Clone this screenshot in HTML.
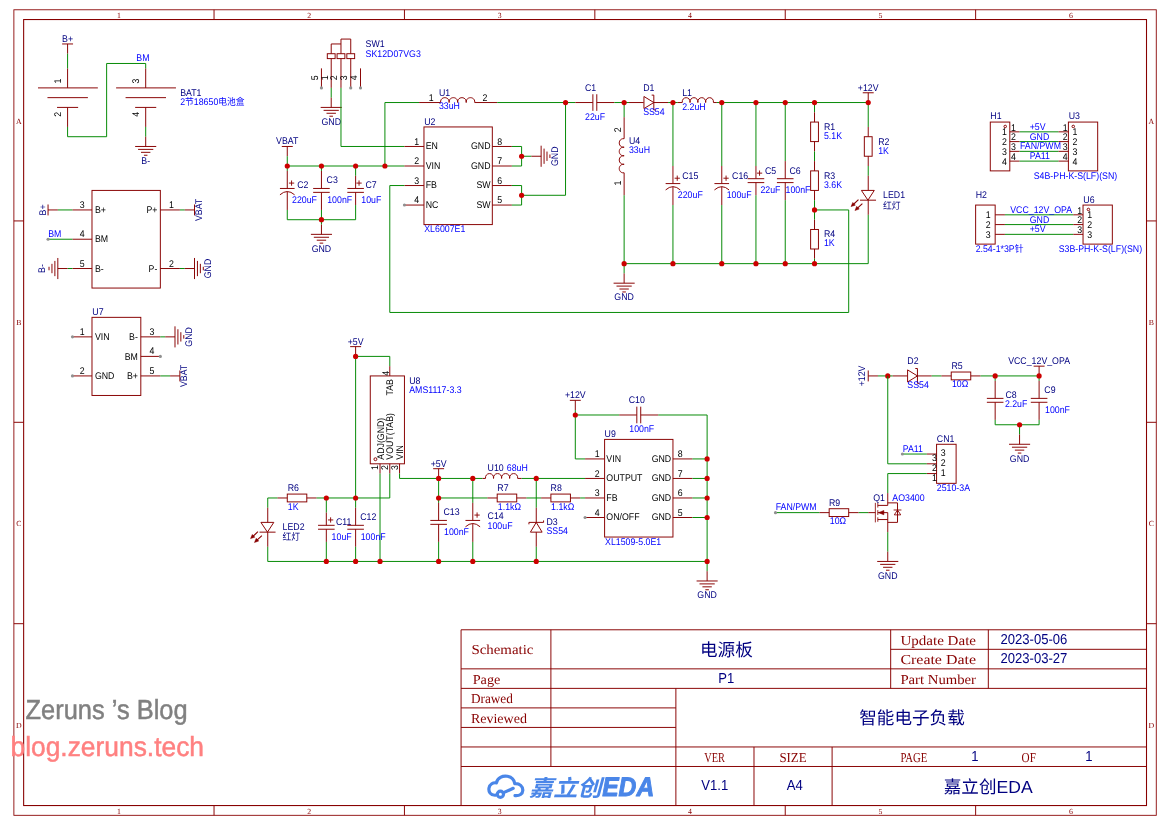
<!DOCTYPE html>
<html lang="zh">
<head>
<meta charset="utf-8">
<title>电源板 - 智能电子负载</title>
<style>
html,body{margin:0;padding:0;background:#fff;}
body{width:1170px;height:825px;overflow:hidden;}
svg{display:block;will-change:transform;}
svg text{font-family:"Liberation Sans","Noto Sans CJK SC",sans-serif;}
svg text.m{font-family:"Liberation Mono","Noto Sans CJK SC",monospace;}
svg text.s{font-family:"Liberation Serif","Noto Serif CJK SC",serif;}
</style>
</head>
<body>
<svg width="1170" height="825" viewBox="0 0 1170 825" text-rendering="geometricPrecision">
<rect x="0" y="0" width="1170" height="825" fill="#ffffff"/>
<g id="sch" transform="translate(13.88 9.78) scale(0.9764 0.9764)" stroke-linecap="butt" font-size="9">
<g id="frame">
<rect x="0" y="0" width="1170" height="825" fill="none" stroke="#880000" stroke-width="0.9"/>
<rect x="10" y="10" width="1150" height="805" fill="none" stroke="#880000" stroke-width="1.1"/>
<line x1="205" y1="0" x2="205" y2="10" stroke="#880000" stroke-width="1"/>
<line x1="205" y1="815" x2="205" y2="825" stroke="#880000" stroke-width="1"/>
<line x1="400" y1="0" x2="400" y2="10" stroke="#880000" stroke-width="1"/>
<line x1="400" y1="815" x2="400" y2="825" stroke="#880000" stroke-width="1"/>
<line x1="595" y1="0" x2="595" y2="10" stroke="#880000" stroke-width="1"/>
<line x1="595" y1="815" x2="595" y2="825" stroke="#880000" stroke-width="1"/>
<line x1="790" y1="0" x2="790" y2="10" stroke="#880000" stroke-width="1"/>
<line x1="790" y1="815" x2="790" y2="825" stroke="#880000" stroke-width="1"/>
<line x1="985" y1="0" x2="985" y2="10" stroke="#880000" stroke-width="1"/>
<line x1="985" y1="815" x2="985" y2="825" stroke="#880000" stroke-width="1"/>
<text x="107.5" y="8.6" fill="#880000" font-size="8" text-anchor="middle" class="s">1</text>
<text x="107.5" y="823.6" fill="#880000" font-size="8" text-anchor="middle" class="s">1</text>
<text x="302.5" y="8.6" fill="#880000" font-size="8" text-anchor="middle" class="s">2</text>
<text x="302.5" y="823.6" fill="#880000" font-size="8" text-anchor="middle" class="s">2</text>
<text x="497.5" y="8.6" fill="#880000" font-size="8" text-anchor="middle" class="s">3</text>
<text x="497.5" y="823.6" fill="#880000" font-size="8" text-anchor="middle" class="s">3</text>
<text x="692.5" y="8.6" fill="#880000" font-size="8" text-anchor="middle" class="s">4</text>
<text x="692.5" y="823.6" fill="#880000" font-size="8" text-anchor="middle" class="s">4</text>
<text x="887.5" y="8.6" fill="#880000" font-size="8" text-anchor="middle" class="s">5</text>
<text x="887.5" y="823.6" fill="#880000" font-size="8" text-anchor="middle" class="s">5</text>
<text x="1082.5" y="8.6" fill="#880000" font-size="8" text-anchor="middle" class="s">6</text>
<text x="1082.5" y="823.6" fill="#880000" font-size="8" text-anchor="middle" class="s">6</text>
<line x1="0" y1="216.25" x2="10" y2="216.25" stroke="#880000" stroke-width="1"/>
<line x1="1160" y1="216.25" x2="1170" y2="216.25" stroke="#880000" stroke-width="1"/>
<line x1="0" y1="422.5" x2="10" y2="422.5" stroke="#880000" stroke-width="1"/>
<line x1="1160" y1="422.5" x2="1170" y2="422.5" stroke="#880000" stroke-width="1"/>
<line x1="0" y1="628.75" x2="10" y2="628.75" stroke="#880000" stroke-width="1"/>
<line x1="1160" y1="628.75" x2="1170" y2="628.75" stroke="#880000" stroke-width="1"/>
<text x="5" y="116.5" fill="#880000" font-size="8" text-anchor="middle" class="s">A</text>
<text x="1165" y="116.5" fill="#880000" font-size="8" text-anchor="middle" class="s">A</text>
<text x="5" y="322.75" fill="#880000" font-size="8" text-anchor="middle" class="s">B</text>
<text x="1165" y="322.75" fill="#880000" font-size="8" text-anchor="middle" class="s">B</text>
<text x="5" y="529" fill="#880000" font-size="8" text-anchor="middle" class="s">C</text>
<text x="1165" y="529" fill="#880000" font-size="8" text-anchor="middle" class="s">C</text>
<text x="5" y="735.25" fill="#880000" font-size="8" text-anchor="middle" class="s">D</text>
<text x="1165" y="735.25" fill="#880000" font-size="8" text-anchor="middle" class="s">D</text>
<line x1="458" y1="635" x2="1160" y2="635" stroke="#880000" stroke-width="1"/>
<line x1="458" y1="635" x2="458" y2="815" stroke="#880000" stroke-width="1"/>
<line x1="898" y1="655" x2="1160" y2="655" stroke="#880000" stroke-width="1"/>
<line x1="458" y1="675" x2="1160" y2="675" stroke="#880000" stroke-width="1"/>
<line x1="458" y1="695" x2="1160" y2="695" stroke="#880000" stroke-width="1"/>
<line x1="458" y1="715" x2="678" y2="715" stroke="#880000" stroke-width="1"/>
<line x1="458" y1="735" x2="678" y2="735" stroke="#880000" stroke-width="1"/>
<line x1="458" y1="755" x2="1160" y2="755" stroke="#880000" stroke-width="1"/>
<line x1="458" y1="775" x2="1160" y2="775" stroke="#880000" stroke-width="1"/>
<line x1="550" y1="635" x2="550" y2="775" stroke="#880000" stroke-width="1"/>
<line x1="678" y1="695" x2="678" y2="815" stroke="#880000" stroke-width="1"/>
<line x1="758" y1="755" x2="758" y2="815" stroke="#880000" stroke-width="1"/>
<line x1="838" y1="755" x2="838" y2="815" stroke="#880000" stroke-width="1"/>
<line x1="898" y1="635" x2="898" y2="695" stroke="#880000" stroke-width="1"/>
<line x1="998" y1="635" x2="998" y2="695" stroke="#880000" stroke-width="1"/>
<text x="468.58" y="659.59" fill="#880000" font-size="14" class="s" textLength="63.5" lengthAdjust="spacingAndGlyphs">Schematic</text>
<text x="469.91" y="690.11" fill="#880000" font-size="14" class="s" textLength="28.37" lengthAdjust="spacingAndGlyphs">Page</text>
<text x="468.07" y="709.87" fill="#880000" font-size="14" class="s" textLength="43.02" lengthAdjust="spacingAndGlyphs">Drawed</text>
<text x="468.07" y="730.05" fill="#880000" font-size="14" class="s" textLength="57.35" lengthAdjust="spacingAndGlyphs">Reviewed</text>
<text x="707.01" y="770.61" fill="#880000" font-size="14" class="s" textLength="21.3" lengthAdjust="spacingAndGlyphs">VER</text>
<text x="784.02" y="770.61" fill="#880000" font-size="14" class="s" textLength="27.86" lengthAdjust="spacingAndGlyphs">SIZE</text>
<text x="907.95" y="651.09" fill="#880000" font-size="14" class="s" textLength="77.43" lengthAdjust="spacingAndGlyphs">Update Date</text>
<text x="907.95" y="670.54" fill="#880000" font-size="14" class="s" textLength="77.43" lengthAdjust="spacingAndGlyphs">Create Date</text>
<text x="907.95" y="690.82" fill="#880000" font-size="14" class="s" textLength="77.43" lengthAdjust="spacingAndGlyphs">Part Number</text>
<text x="907.95" y="769.99" fill="#880000" font-size="14" class="s" textLength="27.65" lengthAdjust="spacingAndGlyphs">PAGE</text>
<text x="1032.08" y="769.99" fill="#880000" font-size="14" class="s" textLength="14.65" lengthAdjust="spacingAndGlyphs">OF</text>
<text transform="translate(729.74 661.43) scale(1 1)" fill="#000080" font-size="18" text-anchor="middle" class="c">电源板</text>
<text transform="translate(729.54 689.9) scale(1 1.1)" fill="#000080" font-size="13.4" text-anchor="middle" class="c">P1</text>
<text transform="translate(717.76 799.39) scale(1 1.1)" fill="#000080" font-size="13.4" text-anchor="middle" class="c">V1.1</text>
<text transform="translate(799.8 799.39) scale(1 1.1)" fill="#000080" font-size="13.4" text-anchor="middle" class="c">A4</text>
<text transform="translate(1010.47 649.86) scale(1 1.1)" fill="#000080" font-size="13.4" text-anchor="start" class="c">2023-05-06</text>
<text transform="translate(1010.47 669.21) scale(1 1.1)" fill="#000080" font-size="13.4" text-anchor="start" class="c">2023-03-27</text>
<text transform="translate(919.83 731.48) scale(1 1)" fill="#000080" font-size="18" text-anchor="middle" class="c">智能电子负载</text>
<text transform="translate(984.35 769.07) scale(1 1.1)" fill="#000080" font-size="13.4" text-anchor="middle" class="c">1</text>
<text transform="translate(1101.11 769.07) scale(1 1.1)" fill="#000080" font-size="13.4" text-anchor="middle" class="c">1</text>
<text transform="translate(997.87 802.15) scale(1 1)" fill="#000080" font-size="18" text-anchor="middle" class="c">嘉立创EDA</text>
</g>
<polyline points="55,60 55,80" stroke="#880000" stroke-width="1" fill="none"/>
<polyline points="24.7,80 86,80" stroke="#880000" stroke-width="1" fill="none"/>
<polyline points="34.4,90 75.8,90" stroke="#880000" stroke-width="1" fill="none"/>
<polyline points="44.2,100 65.8,100" stroke="#880000" stroke-width="1" fill="none"/>
<polyline points="55,100 55,120" stroke="#880000" stroke-width="1" fill="none"/>
<polyline points="135,60 135,80" stroke="#880000" stroke-width="1" fill="none"/>
<polyline points="104.7,80 166,80" stroke="#880000" stroke-width="1" fill="none"/>
<polyline points="114.4,90 155.8,90" stroke="#880000" stroke-width="1" fill="none"/>
<polyline points="124.2,100 145.8,100" stroke="#880000" stroke-width="1" fill="none"/>
<polyline points="135,100 135,120" stroke="#880000" stroke-width="1" fill="none"/>
<polyline points="55,45 55,35" stroke="#880000" stroke-width="1" fill="none"/>
<polyline points="60.6,35 49.4,35" stroke="#880000" stroke-width="1" fill="none"/>
<text transform="translate(55 33.2) scale(1 1.1)" fill="#000080" text-anchor="middle">B+</text>
<polyline points="55,45 55,60" stroke="#008800" stroke-width="1" fill="none"/>
<polyline points="55,120 55,130 95,130 95,55 135,55 135,60" stroke="#008800" stroke-width="1" fill="none"/>
<polyline points="135,120 135,130" stroke="#008800" stroke-width="1" fill="none"/>
<polyline points="135,130 135,140" stroke="#880000" stroke-width="1" fill="none"/>
<polyline points="124.2,140 145.8,140" stroke="#880000" stroke-width="1" fill="none"/>
<polyline points="127.2,143 142.8,143" stroke="#880000" stroke-width="1" fill="none"/>
<polyline points="130.2,146 139.8,146" stroke="#880000" stroke-width="1" fill="none"/>
<polyline points="133.2,149 136.8,149" stroke="#880000" stroke-width="1" fill="none"/>
<text transform="translate(135 157.6) scale(1 1.1)" fill="#000080" text-anchor="middle">B-</text>
<text transform="translate(125.45 52.46) scale(1 1.1)" fill="#0000ff">BM</text>
<text transform="translate(47.79 72.98) rotate(-90) scale(1 1.1)" fill="#000000" text-anchor="middle">1</text>
<text transform="translate(47.79 107.01) rotate(-90) scale(1 1.1)" fill="#000000" text-anchor="middle">2</text>
<text transform="translate(127.85 72.98) rotate(-90) scale(1 1.1)" fill="#000000" text-anchor="middle">3</text>
<text transform="translate(127.85 107.01) rotate(-90) scale(1 1.1)" fill="#000000" text-anchor="middle">4</text>
<text transform="translate(170.29 88.19) scale(1 1.1)" fill="#000080">BAT1</text>
<text transform="translate(170.29 97.6) scale(1 1.1)" fill="#0000ff">2节18650电池盒</text>
<rect x="80" y="185" width="70" height="100" stroke="#880000" stroke-width="1" fill="none"/>
<polyline points="60,205 80,205" stroke="#880000" stroke-width="1" fill="none"/>
<text transform="translate(70 203) scale(1 1.1)" fill="#000000" text-anchor="middle">3</text>
<text transform="translate(83 208.3) scale(1 1.1)" fill="#000000">B+</text>
<polyline points="60,235 80,235" stroke="#880000" stroke-width="1" fill="none"/>
<text transform="translate(70 233) scale(1 1.1)" fill="#000000" text-anchor="middle">4</text>
<text transform="translate(83 238.3) scale(1 1.1)" fill="#000000">BM</text>
<polyline points="60,265 80,265" stroke="#880000" stroke-width="1" fill="none"/>
<text transform="translate(70 263) scale(1 1.1)" fill="#000000" text-anchor="middle">5</text>
<text transform="translate(83 268.3) scale(1 1.1)" fill="#000000">B-</text>
<polyline points="150,205 170,205" stroke="#880000" stroke-width="1" fill="none"/>
<text transform="translate(161.3 203) scale(1 1.1)" fill="#000000" text-anchor="middle">1</text>
<text transform="translate(147 208.3) scale(1 1.1)" fill="#000000" text-anchor="end">P+</text>
<polyline points="150,265 170,265" stroke="#880000" stroke-width="1" fill="none"/>
<text transform="translate(161.3 263) scale(1 1.1)" fill="#000000" text-anchor="middle">2</text>
<text transform="translate(147 268.3) scale(1 1.1)" fill="#000000" text-anchor="end">P-</text>
<polyline points="45,205 60,205" stroke="#008800" stroke-width="1" fill="none"/>
<polyline points="45,205 35,205" stroke="#880000" stroke-width="1" fill="none"/>
<polyline points="35,199.4 35,210.6" stroke="#880000" stroke-width="1" fill="none"/>
<text transform="translate(33.4 205) rotate(-90) scale(1 1.1)" fill="#000080" text-anchor="middle">B+</text>
<polyline points="35,235 60,235" stroke="#008800" stroke-width="1" fill="none"/>
<circle cx="35" cy="235" r="1.6" fill="#909090"/>
<text transform="translate(35.18 232.91) scale(1 1.1)" fill="#0000ff">BM</text>
<polyline points="55,265 60,265" stroke="#008800" stroke-width="1" fill="none"/>
<polyline points="55,265 45,265" stroke="#880000" stroke-width="1" fill="none"/>
<polyline points="45,254.2 45,275.8" stroke="#880000" stroke-width="1" fill="none"/>
<polyline points="42,257.2 42,272.8" stroke="#880000" stroke-width="1" fill="none"/>
<polyline points="39,260.2 39,269.8" stroke="#880000" stroke-width="1" fill="none"/>
<polyline points="36,263.2 36,266.8" stroke="#880000" stroke-width="1" fill="none"/>
<text transform="translate(31.6 265) rotate(-90) scale(1 1.1)" fill="#000080" text-anchor="middle">B-</text>
<polyline points="170,205 175,205" stroke="#008800" stroke-width="1" fill="none"/>
<polyline points="175,205 185,205" stroke="#880000" stroke-width="1" fill="none"/>
<polyline points="185,210.6 185,199.4" stroke="#880000" stroke-width="1" fill="none"/>
<text transform="translate(192.4 205) rotate(-90) scale(1 1.1)" fill="#000080" text-anchor="middle">VBAT</text>
<polyline points="170,265 175,265" stroke="#008800" stroke-width="1" fill="none"/>
<polyline points="175,265 185,265" stroke="#880000" stroke-width="1" fill="none"/>
<polyline points="185,275.8 185,254.2" stroke="#880000" stroke-width="1" fill="none"/>
<polyline points="188,272.8 188,257.2" stroke="#880000" stroke-width="1" fill="none"/>
<polyline points="191,269.8 191,260.2" stroke="#880000" stroke-width="1" fill="none"/>
<polyline points="194,266.8 194,263.2" stroke="#880000" stroke-width="1" fill="none"/>
<text transform="translate(202 265) rotate(-90) scale(1 1.1)" fill="#000080" text-anchor="middle">GND</text>
<rect x="80" y="315" width="50" height="80" stroke="#880000" stroke-width="1" fill="none"/>
<polyline points="60,335 80,335" stroke="#880000" stroke-width="1" fill="none"/>
<text transform="translate(70 333) scale(1 1.1)" fill="#000000" text-anchor="middle">1</text>
<text transform="translate(83 338.3) scale(1 1.1)" fill="#000000">VIN</text>
<polyline points="60,375 80,375" stroke="#880000" stroke-width="1" fill="none"/>
<text transform="translate(70 373) scale(1 1.1)" fill="#000000" text-anchor="middle">2</text>
<text transform="translate(83 378.3) scale(1 1.1)" fill="#000000">GND</text>
<polyline points="130,335 150,335" stroke="#880000" stroke-width="1" fill="none"/>
<text transform="translate(141.3 333) scale(1 1.1)" fill="#000000" text-anchor="middle">3</text>
<text transform="translate(127 338.3) scale(1 1.1)" fill="#000000" text-anchor="end">B-</text>
<polyline points="130,355 150,355" stroke="#880000" stroke-width="1" fill="none"/>
<text transform="translate(141.3 353) scale(1 1.1)" fill="#000000" text-anchor="middle">4</text>
<text transform="translate(127 358.3) scale(1 1.1)" fill="#000000" text-anchor="end">BM</text>
<polyline points="130,375 150,375" stroke="#880000" stroke-width="1" fill="none"/>
<text transform="translate(141.3 373) scale(1 1.1)" fill="#000000" text-anchor="middle">5</text>
<text transform="translate(127 378.3) scale(1 1.1)" fill="#000000" text-anchor="end">B+</text>
<text transform="translate(80.31 312.67) scale(1 1.1)" fill="#000080">U7</text>
<circle cx="60" cy="335" r="1.6" fill="#909090"/>
<circle cx="60" cy="375" r="1.6" fill="#909090"/>
<circle cx="150" cy="355" r="1.6" fill="#909090"/>
<polyline points="150,335 155,335" stroke="#008800" stroke-width="1" fill="none"/>
<polyline points="155,335 165,335" stroke="#880000" stroke-width="1" fill="none"/>
<polyline points="165,345.8 165,324.2" stroke="#880000" stroke-width="1" fill="none"/>
<polyline points="168,342.8 168,327.2" stroke="#880000" stroke-width="1" fill="none"/>
<polyline points="171,339.8 171,330.2" stroke="#880000" stroke-width="1" fill="none"/>
<polyline points="174,336.8 174,333.2" stroke="#880000" stroke-width="1" fill="none"/>
<text transform="translate(182 335) rotate(-90) scale(1 1.1)" fill="#000080" text-anchor="middle">GND</text>
<polyline points="150,375 160,375" stroke="#008800" stroke-width="1" fill="none"/>
<polyline points="160,375 170,375" stroke="#880000" stroke-width="1" fill="none"/>
<polyline points="170,380.6 170,369.4" stroke="#880000" stroke-width="1" fill="none"/>
<text transform="translate(177.4 375) rotate(-90) scale(1 1.1)" fill="#000080" text-anchor="middle">VBAT</text>
<rect x="321" y="45" width="8" height="5" stroke="#880000" stroke-width="1" fill="none"/>
<polyline points="325,50 325,80" stroke="#880000" stroke-width="1" fill="none"/>
<rect x="331" y="45" width="8" height="5" stroke="#880000" stroke-width="1" fill="none"/>
<polyline points="335,50 335,80" stroke="#880000" stroke-width="1" fill="none"/>
<rect x="341" y="45" width="8" height="5" stroke="#880000" stroke-width="1" fill="none"/>
<polyline points="345,50 345,80" stroke="#880000" stroke-width="1" fill="none"/>
<polyline points="325,45 325,35 335,35" stroke="#880000" stroke-width="1" fill="none"/>
<polyline points="335,45 335,30 345,30 345,45" stroke="#880000" stroke-width="1" fill="none"/>
<polyline points="315,60 315,80" stroke="#880000" stroke-width="1" fill="none"/>
<polyline points="355,60 355,80" stroke="#880000" stroke-width="1" fill="none"/>
<circle cx="315" cy="80" r="1.6" fill="#909090"/>
<circle cx="345" cy="80" r="1.6" fill="#909090"/>
<circle cx="355" cy="80" r="1.6" fill="#909090"/>
<text transform="translate(311.2 69.58) rotate(-90) scale(1 1.1)" fill="#000000" text-anchor="middle">5</text>
<text transform="translate(321.21 69.58) rotate(-90) scale(1 1.1)" fill="#000000" text-anchor="middle">1</text>
<text transform="translate(331.22 69.58) rotate(-90) scale(1 1.1)" fill="#000000" text-anchor="middle">2</text>
<text transform="translate(341.23 69.58) rotate(-90) scale(1 1.1)" fill="#000000" text-anchor="middle">3</text>
<text transform="translate(351.24 69.58) rotate(-90) scale(1 1.1)" fill="#000000" text-anchor="middle">4</text>
<polyline points="325,80 325,90" stroke="#008800" stroke-width="1" fill="none"/>
<polyline points="325,90 325,100" stroke="#880000" stroke-width="1" fill="none"/>
<polyline points="314.2,100 335.8,100" stroke="#880000" stroke-width="1" fill="none"/>
<polyline points="317.2,103 332.8,103" stroke="#880000" stroke-width="1" fill="none"/>
<polyline points="320.2,106 329.8,106" stroke="#880000" stroke-width="1" fill="none"/>
<polyline points="323.2,109 326.8,109" stroke="#880000" stroke-width="1" fill="none"/>
<text transform="translate(325 117.6) scale(1 1.1)" fill="#000080" text-anchor="middle">GND</text>
<polyline points="335,80 335,140 400,140" stroke="#008800" stroke-width="1" fill="none"/>
<text transform="translate(360.24 38.05) scale(1 1.1)" fill="#000080">SW1</text>
<text transform="translate(360.24 48.06) scale(1 1.1)" fill="#0000ff">SK12D07VG3</text>
<polyline points="380,160 380,95 415,95" stroke="#008800" stroke-width="1" fill="none"/>
<polyline points="415,95 437,95" stroke="#880000" stroke-width="1" fill="none"/>
<path d="M437 95 C436.4 88.35 446.35 88.35 445.75 95 C445.15 88.35 455.1 88.35 454.5 95 C453.9 88.35 463.85 88.35 463.25 95 C462.65 88.35 472.6 88.35 472 95" stroke="#880000" stroke-width="1" fill="none"/>
<polyline points="472,95 495,95" stroke="#880000" stroke-width="1" fill="none"/>
<text transform="translate(429.8 93.19) scale(1 1.1)" fill="#000000" text-anchor="end">1</text>
<text transform="translate(480.04 93.19) scale(1 1.1)" fill="#000000">2</text>
<text transform="translate(435.31 87.89) scale(1 1.1)" fill="#000080">U1</text>
<text transform="translate(435.31 102.1) scale(1 1.1)" fill="#0000ff">33uH</text>
<polyline points="280,150 280,140" stroke="#880000" stroke-width="1" fill="none"/>
<polyline points="285.6,140 274.4,140" stroke="#880000" stroke-width="1" fill="none"/>
<text transform="translate(280 137.9) scale(1 1.1)" fill="#000080" text-anchor="middle">VBAT</text>
<polyline points="280,150 280,165" stroke="#008800" stroke-width="1" fill="none"/>
<polyline points="280,160 400,160" stroke="#008800" stroke-width="1" fill="none"/>
<polyline points="280,165 280,183" stroke="#880000" stroke-width="1" fill="none"/>
<polyline points="272.5,183 287.5,183" stroke="#880000" stroke-width="1" fill="none"/>
<path d="M272.5 189.5 Q280 182.8 287.5 189.5" stroke="#880000" stroke-width="1" fill="none"/>
<polyline points="280,186.2 280,205" stroke="#880000" stroke-width="1" fill="none"/>
<polyline points="281.7,177.5 287.1,177.5" stroke="#880000" stroke-width="0.95" fill="none"/>
<polyline points="284.4,174.8 284.4,180.2" stroke="#880000" stroke-width="0.95" fill="none"/>
<text transform="translate(290.19 182.47) scale(1 1.1)" fill="#000080">C2</text>
<text transform="translate(284.88 197.68) scale(1 1.1)" fill="#0000ff">220uF</text>
<polyline points="315,165 315,183" stroke="#880000" stroke-width="1" fill="none"/>
<polyline points="306.5,183 323.5,183" stroke="#880000" stroke-width="1" fill="none"/>
<polyline points="306.5,187 323.5,187" stroke="#880000" stroke-width="1" fill="none"/>
<polyline points="315,187 315,205" stroke="#880000" stroke-width="1" fill="none"/>
<text transform="translate(320.21 177.16) scale(1 1.1)" fill="#000080">C3</text>
<text transform="translate(320.91 197.68) scale(1 1.1)" fill="#0000ff">100nF</text>
<polyline points="350,170 350,183" stroke="#880000" stroke-width="1" fill="none"/>
<polyline points="341.5,183 358.5,183" stroke="#880000" stroke-width="1" fill="none"/>
<polyline points="341.5,187 358.5,187" stroke="#880000" stroke-width="1" fill="none"/>
<polyline points="350,187 350,200" stroke="#880000" stroke-width="1" fill="none"/>
<polyline points="350.8,177.5 356.2,177.5" stroke="#880000" stroke-width="0.95" fill="none"/>
<polyline points="353.5,174.8 353.5,180.2" stroke="#880000" stroke-width="0.95" fill="none"/>
<text transform="translate(360.04 182.47) scale(1 1.1)" fill="#000080">C7</text>
<text transform="translate(355.84 197.68) scale(1 1.1)" fill="#0000ff">10uF</text>
<polyline points="315,160 315,165" stroke="#008800" stroke-width="1" fill="none"/>
<polyline points="350,160 350,170" stroke="#008800" stroke-width="1" fill="none"/>
<polyline points="280,205 280,215 350,215 350,200" stroke="#008800" stroke-width="1" fill="none"/>
<polyline points="315,205 315,220" stroke="#008800" stroke-width="1" fill="none"/>
<polyline points="315,220 315,230" stroke="#880000" stroke-width="1" fill="none"/>
<polyline points="304.2,230 325.8,230" stroke="#880000" stroke-width="1" fill="none"/>
<polyline points="307.2,233 322.8,233" stroke="#880000" stroke-width="1" fill="none"/>
<polyline points="310.2,236 319.8,236" stroke="#880000" stroke-width="1" fill="none"/>
<polyline points="313.2,239 316.8,239" stroke="#880000" stroke-width="1" fill="none"/>
<text transform="translate(315 247.6) scale(1 1.1)" fill="#000080" text-anchor="middle">GND</text>
<circle cx="280" cy="160" r="2.65" fill="#cc0000"/>
<circle cx="315" cy="160" r="2.65" fill="#cc0000"/>
<circle cx="350" cy="160" r="2.65" fill="#cc0000"/>
<circle cx="380" cy="160" r="2.65" fill="#cc0000"/>
<circle cx="315" cy="215" r="2.65" fill="#cc0000"/>
<rect x="420" y="120" width="70" height="100" stroke="#880000" stroke-width="1" fill="none"/>
<polyline points="400,140 420,140" stroke="#880000" stroke-width="1" fill="none"/>
<text transform="translate(415 138.2) scale(1 1.1)" fill="#000000" text-anchor="end">1</text>
<text transform="translate(421.8 142.9) scale(1 1.1)" fill="#000000">EN</text>
<polyline points="400,160 420,160" stroke="#880000" stroke-width="1" fill="none"/>
<text transform="translate(415 158.2) scale(1 1.1)" fill="#000000" text-anchor="end">2</text>
<text transform="translate(421.8 162.9) scale(1 1.1)" fill="#000000">VIN</text>
<polyline points="400,180 420,180" stroke="#880000" stroke-width="1" fill="none"/>
<text transform="translate(415 178.2) scale(1 1.1)" fill="#000000" text-anchor="end">3</text>
<text transform="translate(421.8 182.9) scale(1 1.1)" fill="#000000">FB</text>
<polyline points="400,200 420,200" stroke="#880000" stroke-width="1" fill="none"/>
<text transform="translate(415 198.2) scale(1 1.1)" fill="#000000" text-anchor="end">4</text>
<text transform="translate(421.8 202.9) scale(1 1.1)" fill="#000000">NC</text>
<polyline points="490,140 510,140" stroke="#880000" stroke-width="1" fill="none"/>
<text transform="translate(495 138.2) scale(1 1.1)" fill="#000000">8</text>
<text transform="translate(488.2 142.9) scale(1 1.1)" fill="#000000" text-anchor="end">GND</text>
<polyline points="490,160 510,160" stroke="#880000" stroke-width="1" fill="none"/>
<text transform="translate(495 158.2) scale(1 1.1)" fill="#000000">7</text>
<text transform="translate(488.2 162.9) scale(1 1.1)" fill="#000000" text-anchor="end">GND</text>
<polyline points="490,180 510,180" stroke="#880000" stroke-width="1" fill="none"/>
<text transform="translate(495 178.2) scale(1 1.1)" fill="#000000">6</text>
<text transform="translate(488.2 182.9) scale(1 1.1)" fill="#000000" text-anchor="end">SW</text>
<polyline points="490,200 510,200" stroke="#880000" stroke-width="1" fill="none"/>
<text transform="translate(495 198.2) scale(1 1.1)" fill="#000000">5</text>
<text transform="translate(488.2 202.9) scale(1 1.1)" fill="#000000" text-anchor="end">SW</text>
<text transform="translate(420.29 118.01) scale(1 1.1)" fill="#000080">U2</text>
<text transform="translate(420.29 227.4) scale(1 1.1)" fill="#0000ff">XL6007E1</text>
<circle cx="400" cy="200" r="1.6" fill="#909090"/>
<polyline points="510,140 520,140 520,160 510,160" stroke="#008800" stroke-width="1" fill="none"/>
<polyline points="520,150 530,150" stroke="#008800" stroke-width="1" fill="none"/>
<polyline points="530,150 540,150" stroke="#880000" stroke-width="1" fill="none"/>
<polyline points="540,160.8 540,139.2" stroke="#880000" stroke-width="1" fill="none"/>
<polyline points="543,157.8 543,142.2" stroke="#880000" stroke-width="1" fill="none"/>
<polyline points="546,154.8 546,145.2" stroke="#880000" stroke-width="1" fill="none"/>
<polyline points="549,151.8 549,148.2" stroke="#880000" stroke-width="1" fill="none"/>
<text transform="translate(557 150) rotate(-90) scale(1 1.1)" fill="#000080" text-anchor="middle">GND</text>
<circle cx="520" cy="150" r="2.65" fill="#cc0000"/>
<polyline points="510,180 520,180 520,200 510,200" stroke="#008800" stroke-width="1" fill="none"/>
<polyline points="520,190 565,190 565,95" stroke="#008800" stroke-width="1" fill="none"/>
<circle cx="520" cy="190" r="2.65" fill="#cc0000"/>
<polyline points="400,180 385,180 385,310 855,310 855,205 820,205" stroke="#008800" stroke-width="1" fill="none"/>
<polyline points="495,95 575,95" stroke="#008800" stroke-width="1" fill="none"/>
<polyline points="575,95 593,95" stroke="#880000" stroke-width="1" fill="none"/>
<polyline points="593,86.5 593,103.5" stroke="#880000" stroke-width="1" fill="none"/>
<polyline points="597,86.5 597,103.5" stroke="#880000" stroke-width="1" fill="none"/>
<polyline points="597,95 615,95" stroke="#880000" stroke-width="1" fill="none"/>
<text transform="translate(584.93 82.89) scale(1 1.1)" fill="#000080">C1</text>
<text transform="translate(584.93 112.51) scale(1 1.1)" fill="#0000ff">22uF</text>
<polyline points="615,95 630,95" stroke="#008800" stroke-width="1" fill="none"/>
<polyline points="630,95 645,95" stroke="#880000" stroke-width="1" fill="none"/>
<polyline points="655,95 670,95" stroke="#880000" stroke-width="1" fill="none"/>
<path d="M645.3 88.8 L655.4 95 L645.3 101.2 Z" stroke="#880000" stroke-width="1" fill="none"/>
<polyline points="653.2,87.4 655.4,87.4 655.4,102.6 657.6,102.6" stroke="#880000" stroke-width="1" fill="none"/>
<text transform="translate(644.48 82.89) scale(1 1.1)" fill="#000080">D1</text>
<text transform="translate(644.48 107.81) scale(1 1.1)" fill="#0000ff">SS54</text>
<polyline points="670,95 680,95" stroke="#008800" stroke-width="1" fill="none"/>
<polyline points="680,95 684.5,95" stroke="#880000" stroke-width="1" fill="none"/>
<path d="M684.5 95 C683.9 88.35 693.1 88.35 692.5 95 C691.9 88.35 701.1 88.35 700.5 95 C699.9 88.35 709.1 88.35 708.5 95 C707.9 88.35 717.1 88.35 716.5 95" stroke="#880000" stroke-width="1" fill="none"/>
<polyline points="716.5,95 720,95" stroke="#880000" stroke-width="1" fill="none"/>
<text transform="translate(684.51 88.09) scale(1 1.1)" fill="#000080">L1</text>
<text transform="translate(684.51 102.6) scale(1 1.1)" fill="#0000ff">2.2uH</text>
<polyline points="720,95 875,95" stroke="#008800" stroke-width="1" fill="none"/>
<polyline points="875,95 875,85" stroke="#880000" stroke-width="1" fill="none"/>
<polyline points="880.6,85 869.4,85" stroke="#880000" stroke-width="1" fill="none"/>
<text transform="translate(875 83.2) scale(1 1.1)" fill="#000080" text-anchor="middle">+12V</text>
<polyline points="625,95 625,110" stroke="#008800" stroke-width="1" fill="none"/>
<polyline points="625,110 625,132" stroke="#880000" stroke-width="1" fill="none"/>
<path d="M625 132 C618.35 131.4 618.35 141.35 625 140.75 C618.35 140.15 618.35 150.1 625 149.5 C618.35 148.9 618.35 158.85 625 158.25 C618.35 157.65 618.35 167.6 625 167" stroke="#880000" stroke-width="1" fill="none"/>
<polyline points="625,167 625,190" stroke="#880000" stroke-width="1" fill="none"/>
<polyline points="625,190 625,260" stroke="#008800" stroke-width="1" fill="none"/>
<text transform="translate(621.46 123.02) rotate(-90) scale(1 1.1)" fill="#000000" text-anchor="middle">2</text>
<text transform="translate(621.46 177.56) rotate(-90) scale(1 1.1)" fill="#000000" text-anchor="middle">1</text>
<text transform="translate(629.96 137.43) scale(1 1.1)" fill="#000080">U4</text>
<text transform="translate(629.96 147.14) scale(1 1.1)" fill="#0000ff">33uH</text>
<polyline points="675,95 675,160" stroke="#008800" stroke-width="1" fill="none"/>
<polyline points="675,160 675,178" stroke="#880000" stroke-width="1" fill="none"/>
<polyline points="667.5,178 682.5,178" stroke="#880000" stroke-width="1" fill="none"/>
<path d="M667.5 184.5 Q675 177.8 682.5 184.5" stroke="#880000" stroke-width="1" fill="none"/>
<polyline points="675,181.2 675,200" stroke="#880000" stroke-width="1" fill="none"/>
<polyline points="676.7,172.5 682.1,172.5" stroke="#880000" stroke-width="0.95" fill="none"/>
<polyline points="679.4,169.8 679.4,175.2" stroke="#880000" stroke-width="0.95" fill="none"/>
<polyline points="675,200 675,260" stroke="#008800" stroke-width="1" fill="none"/>
<text transform="translate(684.51 173.36) scale(1 1.1)" fill="#000080">C15</text>
<text transform="translate(680.01 192.58) scale(1 1.1)" fill="#0000ff">220uF</text>
<polyline points="725,95 725,160" stroke="#008800" stroke-width="1" fill="none"/>
<polyline points="725,160 725,178" stroke="#880000" stroke-width="1" fill="none"/>
<polyline points="717.5,178 732.5,178" stroke="#880000" stroke-width="1" fill="none"/>
<path d="M717.5 184.5 Q725 177.8 732.5 184.5" stroke="#880000" stroke-width="1" fill="none"/>
<polyline points="725,181.2 725,200" stroke="#880000" stroke-width="1" fill="none"/>
<polyline points="726.7,172.5 732.1,172.5" stroke="#880000" stroke-width="0.95" fill="none"/>
<polyline points="729.4,169.8 729.4,175.2" stroke="#880000" stroke-width="0.95" fill="none"/>
<polyline points="725,200 725,260" stroke="#008800" stroke-width="1" fill="none"/>
<text transform="translate(735.55 173.36) scale(1 1.1)" fill="#000080">C16</text>
<text transform="translate(730.05 192.58) scale(1 1.1)" fill="#0000ff">100uF</text>
<polyline points="760,95 760,160" stroke="#008800" stroke-width="1" fill="none"/>
<polyline points="760,160 760,173" stroke="#880000" stroke-width="1" fill="none"/>
<polyline points="751.5,173 768.5,173" stroke="#880000" stroke-width="1" fill="none"/>
<polyline points="751.5,177 768.5,177" stroke="#880000" stroke-width="1" fill="none"/>
<polyline points="760,177 760,190" stroke="#880000" stroke-width="1" fill="none"/>
<polyline points="761,167.3 766.4,167.3" stroke="#880000" stroke-width="0.95" fill="none"/>
<polyline points="763.7,164.6 763.7,170" stroke="#880000" stroke-width="0.95" fill="none"/>
<polyline points="760,190 760,260" stroke="#008800" stroke-width="1" fill="none"/>
<text transform="translate(769.28 168.06) scale(1 1.1)" fill="#000080">C5</text>
<text transform="translate(764.57 187.77) scale(1 1.1)" fill="#0000ff">22uF</text>
<polyline points="790,95 790,155" stroke="#008800" stroke-width="1" fill="none"/>
<polyline points="790,155 790,173" stroke="#880000" stroke-width="1" fill="none"/>
<polyline points="781.5,173 798.5,173" stroke="#880000" stroke-width="1" fill="none"/>
<polyline points="781.5,177 798.5,177" stroke="#880000" stroke-width="1" fill="none"/>
<polyline points="790,177 790,195" stroke="#880000" stroke-width="1" fill="none"/>
<polyline points="790,195 790,260" stroke="#008800" stroke-width="1" fill="none"/>
<text transform="translate(794.3 168.06) scale(1 1.1)" fill="#000080">C6</text>
<text transform="translate(790.3 187.77) scale(1 1.1)" fill="#0000ff">100nF</text>
<polyline points="820,95 820,105" stroke="#008800" stroke-width="1" fill="none"/>
<polyline points="820,105 820,115" stroke="#880000" stroke-width="1" fill="none"/>
<polyline points="820,135 820,145" stroke="#880000" stroke-width="1" fill="none"/>
<rect x="816" y="115" width="8" height="20" stroke="#880000" stroke-width="1" fill="none"/>
<polyline points="820,145 820,155" stroke="#008800" stroke-width="1" fill="none"/>
<polyline points="820,155 820,165" stroke="#880000" stroke-width="1" fill="none"/>
<polyline points="820,185 820,195" stroke="#880000" stroke-width="1" fill="none"/>
<rect x="816" y="165" width="8" height="20" stroke="#880000" stroke-width="1" fill="none"/>
<polyline points="820,195 820,215" stroke="#008800" stroke-width="1" fill="none"/>
<polyline points="820,215 820,225" stroke="#880000" stroke-width="1" fill="none"/>
<polyline points="820,245 820,255" stroke="#880000" stroke-width="1" fill="none"/>
<rect x="816" y="225" width="8" height="20" stroke="#880000" stroke-width="1" fill="none"/>
<polyline points="820,255 820,260" stroke="#008800" stroke-width="1" fill="none"/>
<text transform="translate(829.63 123.02) scale(1 1.1)" fill="#000080">R1</text>
<text transform="translate(829.63 132.23) scale(1 1.1)" fill="#0000ff">5.1K</text>
<text transform="translate(829.63 173.06) scale(1 1.1)" fill="#000080">R3</text>
<text transform="translate(829.63 182.27) scale(1 1.1)" fill="#0000ff">3.6K</text>
<text transform="translate(829.63 233.11) scale(1 1.1)" fill="#000080">R4</text>
<text transform="translate(829.63 242.32) scale(1 1.1)" fill="#0000ff">1K</text>
<polyline points="875,95 875,120" stroke="#008800" stroke-width="1" fill="none"/>
<polyline points="875,120 875,130" stroke="#880000" stroke-width="1" fill="none"/>
<polyline points="875,150 875,160" stroke="#880000" stroke-width="1" fill="none"/>
<rect x="871" y="130" width="8" height="20" stroke="#880000" stroke-width="1" fill="none"/>
<polyline points="875,160 875,170" stroke="#008800" stroke-width="1" fill="none"/>
<polyline points="875,170 875,185" stroke="#880000" stroke-width="1" fill="none"/>
<polyline points="875,195 875,210" stroke="#880000" stroke-width="1" fill="none"/>
<path d="M868 185 L881.2 185 L874.7 195 Z" stroke="#880000" stroke-width="1" fill="none"/>
<polyline points="866.6,195 883,195" stroke="#880000" stroke-width="1" fill="none"/>
<polyline points="865,194.5 858.9,200.2" stroke="#880000" stroke-width="1.15" fill="none"/>
<path d="M857.4 201.6 L861.8 200.1 L859.2 197.3 Z" stroke="#880000" stroke-width="0.5" fill="#880000"/>
<polyline points="869,198.5 862.9,204.2" stroke="#880000" stroke-width="1.15" fill="none"/>
<path d="M861.4 205.6 L865.8 204.1 L863.2 201.3 Z" stroke="#880000" stroke-width="0.5" fill="#880000"/>
<polyline points="875,210 875,260" stroke="#008800" stroke-width="1" fill="none"/>
<text transform="translate(885.17 138.23) scale(1 1.1)" fill="#000080">R2</text>
<text transform="translate(885.17 148.04) scale(1 1.1)" fill="#0000ff">1K</text>
<text transform="translate(890.18 192.38) scale(1 1.1)" fill="#000080">LED1</text>
<text transform="translate(890.18 203.78) scale(1 1.1)" fill="#000080">红灯</text>
<polyline points="625,260 875,260" stroke="#008800" stroke-width="1" fill="none"/>
<polyline points="625,260 625,270" stroke="#008800" stroke-width="1" fill="none"/>
<polyline points="625,270 625,280" stroke="#880000" stroke-width="1" fill="none"/>
<polyline points="614.2,280 635.8,280" stroke="#880000" stroke-width="1" fill="none"/>
<polyline points="617.2,283 632.8,283" stroke="#880000" stroke-width="1" fill="none"/>
<polyline points="620.2,286 629.8,286" stroke="#880000" stroke-width="1" fill="none"/>
<polyline points="623.2,289 626.8,289" stroke="#880000" stroke-width="1" fill="none"/>
<text transform="translate(625 297.6) scale(1 1.1)" fill="#000080" text-anchor="middle">GND</text>
<circle cx="565" cy="95" r="2.65" fill="#cc0000"/>
<circle cx="625" cy="95" r="2.65" fill="#cc0000"/>
<circle cx="675" cy="95" r="2.65" fill="#cc0000"/>
<circle cx="725" cy="95" r="2.65" fill="#cc0000"/>
<circle cx="760" cy="95" r="2.65" fill="#cc0000"/>
<circle cx="790" cy="95" r="2.65" fill="#cc0000"/>
<circle cx="820" cy="95" r="2.65" fill="#cc0000"/>
<circle cx="875" cy="95" r="2.65" fill="#cc0000"/>
<circle cx="625" cy="260" r="2.65" fill="#cc0000"/>
<circle cx="675" cy="260" r="2.65" fill="#cc0000"/>
<circle cx="725" cy="260" r="2.65" fill="#cc0000"/>
<circle cx="760" cy="260" r="2.65" fill="#cc0000"/>
<circle cx="790" cy="260" r="2.65" fill="#cc0000"/>
<circle cx="820" cy="260" r="2.65" fill="#cc0000"/>
<circle cx="820" cy="205" r="2.65" fill="#cc0000"/>
<rect x="1000" y="115" width="20" height="50" stroke="#880000" stroke-width="1" fill="none"/>
<rect x="1080" y="115" width="30" height="50" stroke="#880000" stroke-width="1" fill="none"/>
<circle cx="1015.3" cy="119.5" r="1.3" stroke="#880000" stroke-width="1" fill="none"/>
<circle cx="1085" cy="119.5" r="1.3" stroke="#880000" stroke-width="1" fill="none"/>
<polyline points="1020,125 1030,125" stroke="#880000" stroke-width="1" fill="none"/>
<polyline points="1030,125 1070,125" stroke="#008800" stroke-width="1" fill="none"/>
<polyline points="1070,125 1080,125" stroke="#880000" stroke-width="1" fill="none"/>
<text transform="translate(1017 128.6) scale(1 1.1)" fill="#000000" text-anchor="end">1</text>
<text transform="translate(1021.3 123.7) scale(1 1.1)" fill="#000000">1</text>
<text transform="translate(1079.2 123.7) scale(1 1.1)" fill="#000000" text-anchor="end">1</text>
<text transform="translate(1084.3 128.6) scale(1 1.1)" fill="#000000">1</text>
<text transform="translate(1040.4 123) scale(1 1.1)" fill="#0000ff">+5V</text>
<polyline points="1020,135 1030,135" stroke="#880000" stroke-width="1" fill="none"/>
<polyline points="1030,135 1070,135" stroke="#008800" stroke-width="1" fill="none"/>
<polyline points="1070,135 1080,135" stroke="#880000" stroke-width="1" fill="none"/>
<text transform="translate(1017 138.6) scale(1 1.1)" fill="#000000" text-anchor="end">2</text>
<text transform="translate(1021.3 133.7) scale(1 1.1)" fill="#000000">2</text>
<text transform="translate(1079.2 133.7) scale(1 1.1)" fill="#000000" text-anchor="end">2</text>
<text transform="translate(1084.3 138.6) scale(1 1.1)" fill="#000000">2</text>
<text transform="translate(1040.4 133) scale(1 1.1)" fill="#0000ff">GND</text>
<polyline points="1020,145 1030,145" stroke="#880000" stroke-width="1" fill="none"/>
<polyline points="1030,145 1070,145" stroke="#008800" stroke-width="1" fill="none"/>
<polyline points="1070,145 1080,145" stroke="#880000" stroke-width="1" fill="none"/>
<text transform="translate(1017 148.6) scale(1 1.1)" fill="#000000" text-anchor="end">3</text>
<text transform="translate(1021.3 143.7) scale(1 1.1)" fill="#000000">3</text>
<text transform="translate(1079.2 143.7) scale(1 1.1)" fill="#000000" text-anchor="end">3</text>
<text transform="translate(1084.3 148.6) scale(1 1.1)" fill="#000000">3</text>
<text transform="translate(1030.4 143) scale(1 1.1)" fill="#0000ff">FAN/PWM</text>
<polyline points="1020,155 1030,155" stroke="#880000" stroke-width="1" fill="none"/>
<polyline points="1030,155 1070,155" stroke="#008800" stroke-width="1" fill="none"/>
<polyline points="1070,155 1080,155" stroke="#880000" stroke-width="1" fill="none"/>
<text transform="translate(1017 158.6) scale(1 1.1)" fill="#000000" text-anchor="end">4</text>
<text transform="translate(1021.3 153.7) scale(1 1.1)" fill="#000000">4</text>
<text transform="translate(1079.2 153.7) scale(1 1.1)" fill="#000000" text-anchor="end">4</text>
<text transform="translate(1084.3 158.6) scale(1 1.1)" fill="#000000">4</text>
<text transform="translate(1040.4 153) scale(1 1.1)" fill="#0000ff">PA11</text>
<text transform="translate(1000 112.2) scale(1 1.1)" fill="#000080">H1</text>
<text transform="translate(1080.3 112.2) scale(1 1.1)" fill="#000080">U3</text>
<text transform="translate(1044.5 173.6) scale(1 1.1)" fill="#0000ff">S4B-PH-K-S(LF)(SN)</text>
<rect x="985" y="200" width="20" height="40" stroke="#880000" stroke-width="1" fill="none"/>
<rect x="1095" y="200" width="30" height="40" stroke="#880000" stroke-width="1" fill="none"/>
<circle cx="1100.5" cy="204.5" r="1.3" stroke="#880000" stroke-width="1" fill="none"/>
<polyline points="1005,210 1015,210" stroke="#880000" stroke-width="1" fill="none"/>
<polyline points="1015,210 1085,210" stroke="#008800" stroke-width="1" fill="none"/>
<polyline points="1085,210 1095,210" stroke="#880000" stroke-width="1" fill="none"/>
<text transform="translate(1000.5 213.6) scale(1 1.1)" fill="#000000" text-anchor="end">1</text>
<text transform="translate(1094.2 208.7) scale(1 1.1)" fill="#000000" text-anchor="end">1</text>
<text transform="translate(1099.3 213.6) scale(1 1.1)" fill="#000000">1</text>
<text transform="translate(1020.4 208) scale(1 1.1)" fill="#0000ff">VCC_12V_OPA</text>
<polyline points="1005,220 1015,220" stroke="#880000" stroke-width="1" fill="none"/>
<polyline points="1015,220 1085,220" stroke="#008800" stroke-width="1" fill="none"/>
<polyline points="1085,220 1095,220" stroke="#880000" stroke-width="1" fill="none"/>
<text transform="translate(1000.5 223.6) scale(1 1.1)" fill="#000000" text-anchor="end">2</text>
<text transform="translate(1094.2 218.7) scale(1 1.1)" fill="#000000" text-anchor="end">2</text>
<text transform="translate(1099.3 223.6) scale(1 1.1)" fill="#000000">2</text>
<text transform="translate(1040.4 218) scale(1 1.1)" fill="#0000ff">GND</text>
<polyline points="1005,230 1015,230" stroke="#880000" stroke-width="1" fill="none"/>
<polyline points="1015,230 1085,230" stroke="#008800" stroke-width="1" fill="none"/>
<polyline points="1085,230 1095,230" stroke="#880000" stroke-width="1" fill="none"/>
<text transform="translate(1000.5 233.6) scale(1 1.1)" fill="#000000" text-anchor="end">3</text>
<text transform="translate(1094.2 228.7) scale(1 1.1)" fill="#000000" text-anchor="end">3</text>
<text transform="translate(1099.3 233.6) scale(1 1.1)" fill="#000000">3</text>
<text transform="translate(1040.4 228) scale(1 1.1)" fill="#0000ff">+5V</text>
<text transform="translate(985 192.5) scale(1 1.1)" fill="#000080">H2</text>
<text transform="translate(1095.3 197.4) scale(1 1.1)" fill="#000080">U6</text>
<text transform="translate(985 248.3) scale(1 1.1)" fill="#0000ff">2.54-1*3P针</text>
<text transform="translate(1070 248.3) scale(1 1.1)" fill="#0000ff">S3B-PH-K-S(LF)(SN)</text>
<polyline points="350,355 350,345" stroke="#880000" stroke-width="1" fill="none"/>
<polyline points="355.6,345 344.4,345" stroke="#880000" stroke-width="1" fill="none"/>
<text transform="translate(350 343.2) scale(1 1.1)" fill="#000080" text-anchor="middle">+5V</text>
<polyline points="350,355 385,355 385,365" stroke="#008800" stroke-width="1" fill="none"/>
<polyline points="385,365 385,375" stroke="#880000" stroke-width="1" fill="none"/>
<rect x="365" y="375" width="35" height="90" stroke="#880000" stroke-width="1" fill="none"/>
<circle cx="370.3" cy="460.3" r="1.5" stroke="#880000" stroke-width="1" fill="none"/>
<polyline points="375,465 375,475" stroke="#880000" stroke-width="1" fill="none"/>
<polyline points="385,465 385,475" stroke="#880000" stroke-width="1" fill="none"/>
<polyline points="395,465 395,475" stroke="#880000" stroke-width="1" fill="none"/>
<text transform="translate(388.57 378.23) rotate(-90) scale(1 1.1)" fill="#000000" text-anchor="end">TAB</text>
<text transform="translate(379.56 460.8) rotate(-90) scale(1 1.1)" fill="#000000">ADJ(GND)</text>
<text transform="translate(388.77 460.8) rotate(-90) scale(1 1.1)" fill="#000000">VOUT(TAB)</text>
<text transform="translate(398.58 460.8) rotate(-90) scale(1 1.1)" fill="#000000">VIN</text>
<text transform="translate(373.25 468.8) rotate(-90) scale(1 1.1)" fill="#000000" text-anchor="middle">1</text>
<text transform="translate(383.26 468.8) rotate(-90) scale(1 1.1)" fill="#000000" text-anchor="middle">2</text>
<text transform="translate(393.27 468.8) rotate(-90) scale(1 1.1)" fill="#000000" text-anchor="middle">3</text>
<text transform="translate(383.76 372.22) rotate(-90) scale(1 1.1)" fill="#000000" text-anchor="middle">4</text>
<text transform="translate(404.88 383.13) scale(1 1.1)" fill="#000080">U8</text>
<text transform="translate(404.88 392.34) scale(1 1.1)" fill="#0000ff">AMS1117-3.3</text>
<polyline points="395,475 395,480 480,480" stroke="#008800" stroke-width="1" fill="none"/>
<polyline points="385,475 385,500" stroke="#008800" stroke-width="1" fill="none"/>
<polyline points="375,475 375,565" stroke="#008800" stroke-width="1" fill="none"/>
<polyline points="350,355 350,510" stroke="#008800" stroke-width="1" fill="none"/>
<polyline points="260,510 260,500 270,500" stroke="#008800" stroke-width="1" fill="none"/>
<polyline points="270,500 280,500" stroke="#880000" stroke-width="1" fill="none"/>
<polyline points="300,500 310,500" stroke="#880000" stroke-width="1" fill="none"/>
<rect x="280" y="496" width="20" height="8" stroke="#880000" stroke-width="1" fill="none"/>
<polyline points="310,500 385,500" stroke="#008800" stroke-width="1" fill="none"/>
<text transform="translate(280.48 493.02) scale(1 1.1)" fill="#000080">R6</text>
<text transform="translate(280.48 512.14) scale(1 1.1)" fill="#0000ff">1K</text>
<polyline points="260,510 260,525" stroke="#880000" stroke-width="1" fill="none"/>
<polyline points="260,535 260,550" stroke="#880000" stroke-width="1" fill="none"/>
<path d="M253 525 L266.2 525 L259.7 535 Z" stroke="#880000" stroke-width="1" fill="none"/>
<polyline points="251.6,535 268,535" stroke="#880000" stroke-width="1" fill="none"/>
<polyline points="250,534.5 243.9,540.2" stroke="#880000" stroke-width="1.15" fill="none"/>
<path d="M242.4 541.6 L246.8 540.1 L244.2 537.3 Z" stroke="#880000" stroke-width="0.5" fill="#880000"/>
<polyline points="254,538.5 247.9,544.2" stroke="#880000" stroke-width="1.15" fill="none"/>
<path d="M246.4 545.6 L250.8 544.1 L248.2 541.3 Z" stroke="#880000" stroke-width="0.5" fill="#880000"/>
<polyline points="260,550 260,565" stroke="#008800" stroke-width="1" fill="none"/>
<text transform="translate(275.17 532.65) scale(1 1.1)" fill="#000080">LED2</text>
<text transform="translate(275.17 543.06) scale(1 1.1)" fill="#000080">红灯</text>
<polyline points="320,500 320,515" stroke="#008800" stroke-width="1" fill="none"/>
<polyline points="320,515 320,528" stroke="#880000" stroke-width="1" fill="none"/>
<polyline points="311.5,528 328.5,528" stroke="#880000" stroke-width="1" fill="none"/>
<polyline points="311.5,532 328.5,532" stroke="#880000" stroke-width="1" fill="none"/>
<polyline points="320,532 320,545" stroke="#880000" stroke-width="1" fill="none"/>
<polyline points="321.7,522.5 327.1,522.5" stroke="#880000" stroke-width="0.95" fill="none"/>
<polyline points="324.4,519.8 324.4,525.2" stroke="#880000" stroke-width="0.95" fill="none"/>
<polyline points="320,545 320,565" stroke="#008800" stroke-width="1" fill="none"/>
<text transform="translate(329.82 527.35) scale(1 1.1)" fill="#000080">C11</text>
<text transform="translate(325.42 543.36) scale(1 1.1)" fill="#0000ff">10uF</text>
<polyline points="350,510 350,528" stroke="#880000" stroke-width="1" fill="none"/>
<polyline points="341.5,528 358.5,528" stroke="#880000" stroke-width="1" fill="none"/>
<polyline points="341.5,532 358.5,532" stroke="#880000" stroke-width="1" fill="none"/>
<polyline points="350,532 350,550" stroke="#880000" stroke-width="1" fill="none"/>
<polyline points="350,550 350,565" stroke="#008800" stroke-width="1" fill="none"/>
<text transform="translate(354.74 522.15) scale(1 1.1)" fill="#000080">C12</text>
<text transform="translate(355.24 543.36) scale(1 1.1)" fill="#0000ff">100nF</text>
<polyline points="260,565 710,565" stroke="#008800" stroke-width="1" fill="none"/>
<polyline points="435,480 435,470" stroke="#880000" stroke-width="1" fill="none"/>
<polyline points="440.6,470 429.4,470" stroke="#880000" stroke-width="1" fill="none"/>
<text transform="translate(435 468.2) scale(1 1.1)" fill="#000080" text-anchor="middle">+5V</text>
<polyline points="435,480 435,505" stroke="#008800" stroke-width="1" fill="none"/>
<polyline points="435,505 435,523" stroke="#880000" stroke-width="1" fill="none"/>
<polyline points="426.5,523 443.5,523" stroke="#880000" stroke-width="1" fill="none"/>
<polyline points="426.5,527 443.5,527" stroke="#880000" stroke-width="1" fill="none"/>
<polyline points="435,527 435,545" stroke="#880000" stroke-width="1" fill="none"/>
<polyline points="435,545 435,565" stroke="#008800" stroke-width="1" fill="none"/>
<text transform="translate(440.01 517.14) scale(1 1.1)" fill="#000080">C13</text>
<text transform="translate(440.51 537.66) scale(1 1.1)" fill="#0000ff">100nF</text>
<polyline points="470,480 470,505" stroke="#008800" stroke-width="1" fill="none"/>
<polyline points="470,505 470,523" stroke="#880000" stroke-width="1" fill="none"/>
<polyline points="462.5,523 477.5,523" stroke="#880000" stroke-width="1" fill="none"/>
<path d="M462.5 529.5 Q470 522.8 477.5 529.5" stroke="#880000" stroke-width="1" fill="none"/>
<polyline points="470,526.2 470,545" stroke="#880000" stroke-width="1" fill="none"/>
<polyline points="471.7,517.5 477.1,517.5" stroke="#880000" stroke-width="0.95" fill="none"/>
<polyline points="474.4,514.8 474.4,520.2" stroke="#880000" stroke-width="0.95" fill="none"/>
<polyline points="470,545 470,565" stroke="#008800" stroke-width="1" fill="none"/>
<text transform="translate(485.15 521.85) scale(1 1.1)" fill="#000080">C14</text>
<text transform="translate(485.15 531.85) scale(1 1.1)" fill="#0000ff">100uF</text>
<polyline points="480,480 483,480" stroke="#880000" stroke-width="1" fill="none"/>
<path d="M483 480 C482.4 473.35 491.85 473.35 491.25 480 C490.65 473.35 500.1 473.35 499.5 480 C498.9 473.35 508.35 473.35 507.75 480 C507.15 473.35 516.6 473.35 516 480" stroke="#880000" stroke-width="1" fill="none"/>
<polyline points="516,480 520,480" stroke="#880000" stroke-width="1" fill="none"/>
<text transform="translate(485.15 472) scale(1 1.1)" fill="#000080">U10</text>
<text transform="translate(504.86 472) scale(1 1.1)" fill="#0000ff">68uH</text>
<polyline points="520,480 585,480" stroke="#008800" stroke-width="1" fill="none"/>
<polyline points="435,500 485,500" stroke="#008800" stroke-width="1" fill="none"/>
<polyline points="485,500 495,500" stroke="#880000" stroke-width="1" fill="none"/>
<polyline points="515,500 525,500" stroke="#880000" stroke-width="1" fill="none"/>
<rect x="495" y="496" width="20" height="8" stroke="#880000" stroke-width="1" fill="none"/>
<polyline points="525,500 540,500" stroke="#008800" stroke-width="1" fill="none"/>
<polyline points="540,500 550,500" stroke="#880000" stroke-width="1" fill="none"/>
<polyline points="570,500 580,500" stroke="#880000" stroke-width="1" fill="none"/>
<rect x="550" y="496" width="20" height="8" stroke="#880000" stroke-width="1" fill="none"/>
<polyline points="580,500 585,500" stroke="#008800" stroke-width="1" fill="none"/>
<text transform="translate(495.15 492.62) scale(1 1.1)" fill="#000080">R7</text>
<text transform="translate(495.65 512.34) scale(1 1.1)" fill="#0000ff">1.1kΩ</text>
<text transform="translate(549.7 492.62) scale(1 1.1)" fill="#000080">R8</text>
<text transform="translate(550.2 512.34) scale(1 1.1)" fill="#0000ff">1.1kΩ</text>
<polyline points="535,480 535,510" stroke="#008800" stroke-width="1" fill="none"/>
<polyline points="535,510 535,525" stroke="#880000" stroke-width="1" fill="none"/>
<polyline points="535,535 535,550" stroke="#880000" stroke-width="1" fill="none"/>
<path d="M529 535 L535 525 L541 535 Z" stroke="#880000" stroke-width="1" fill="none"/>
<polyline points="527.5,527 527.5,525 542.5,525 542.5,523" stroke="#880000" stroke-width="1" fill="none"/>
<polyline points="535,550 535,565" stroke="#008800" stroke-width="1" fill="none"/>
<text transform="translate(545.4 527.35) scale(1 1.1)" fill="#000080">D3</text>
<text transform="translate(545.4 537.36) scale(1 1.1)" fill="#0000ff">SS54</text>
<rect x="605" y="440" width="70" height="100" stroke="#880000" stroke-width="1" fill="none"/>
<polyline points="585,460 605,460" stroke="#880000" stroke-width="1" fill="none"/>
<text transform="translate(600 458.2) scale(1 1.1)" fill="#000000" text-anchor="end">1</text>
<text transform="translate(606.8 462.9) scale(1 1.1)" fill="#000000">VIN</text>
<polyline points="585,480 605,480" stroke="#880000" stroke-width="1" fill="none"/>
<text transform="translate(600 478.2) scale(1 1.1)" fill="#000000" text-anchor="end">2</text>
<text transform="translate(606.8 482.9) scale(1 1.1)" fill="#000000">OUTPUT</text>
<polyline points="585,500 605,500" stroke="#880000" stroke-width="1" fill="none"/>
<text transform="translate(600 498.2) scale(1 1.1)" fill="#000000" text-anchor="end">3</text>
<text transform="translate(606.8 502.9) scale(1 1.1)" fill="#000000">FB</text>
<polyline points="585,520 605,520" stroke="#880000" stroke-width="1" fill="none"/>
<text transform="translate(600 518.2) scale(1 1.1)" fill="#000000" text-anchor="end">4</text>
<text transform="translate(606.8 522.9) scale(1 1.1)" fill="#000000">ON/OFF</text>
<polyline points="675,460 695,460" stroke="#880000" stroke-width="1" fill="none"/>
<text transform="translate(680 458.2) scale(1 1.1)" fill="#000000">8</text>
<text transform="translate(673.2 462.9) scale(1 1.1)" fill="#000000" text-anchor="end">GND</text>
<polyline points="675,480 695,480" stroke="#880000" stroke-width="1" fill="none"/>
<text transform="translate(680 478.2) scale(1 1.1)" fill="#000000">7</text>
<text transform="translate(673.2 482.9) scale(1 1.1)" fill="#000000" text-anchor="end">GND</text>
<polyline points="675,500 695,500" stroke="#880000" stroke-width="1" fill="none"/>
<text transform="translate(680 498.2) scale(1 1.1)" fill="#000000">6</text>
<text transform="translate(673.2 502.9) scale(1 1.1)" fill="#000000" text-anchor="end">GND</text>
<polyline points="675,520 695,520" stroke="#880000" stroke-width="1" fill="none"/>
<text transform="translate(680 518.2) scale(1 1.1)" fill="#000000">5</text>
<text transform="translate(673.2 522.9) scale(1 1.1)" fill="#000000" text-anchor="end">GND</text>
<text transform="translate(604.94 437.58) scale(1 1.1)" fill="#000080">U9</text>
<text transform="translate(605.44 548.07) scale(1 1.1)" fill="#0000ff">XL1509-5.0E1</text>
<circle cx="585" cy="520" r="1.6" fill="#909090"/>
<polyline points="695,460 710,460" stroke="#008800" stroke-width="1" fill="none"/>
<polyline points="695,480 710,480" stroke="#008800" stroke-width="1" fill="none"/>
<polyline points="695,500 710,500" stroke="#008800" stroke-width="1" fill="none"/>
<polyline points="695,520 710,520" stroke="#008800" stroke-width="1" fill="none"/>
<polyline points="710,415 710,575" stroke="#008800" stroke-width="1" fill="none"/>
<polyline points="710,575 710,585" stroke="#880000" stroke-width="1" fill="none"/>
<polyline points="699.2,585 720.8,585" stroke="#880000" stroke-width="1" fill="none"/>
<polyline points="702.2,588 717.8,588" stroke="#880000" stroke-width="1" fill="none"/>
<polyline points="705.2,591 714.8,591" stroke="#880000" stroke-width="1" fill="none"/>
<polyline points="708.2,594 711.8,594" stroke="#880000" stroke-width="1" fill="none"/>
<text transform="translate(710 602.6) scale(1 1.1)" fill="#000080" text-anchor="middle">GND</text>
<polyline points="575,410 575,400" stroke="#880000" stroke-width="1" fill="none"/>
<polyline points="580.6,400 569.4,400" stroke="#880000" stroke-width="1" fill="none"/>
<text transform="translate(575 397.6) scale(1 1.1)" fill="#000080" text-anchor="middle">+12V</text>
<polyline points="575,410 575,460 585,460" stroke="#008800" stroke-width="1" fill="none"/>
<polyline points="575,415 620,415" stroke="#008800" stroke-width="1" fill="none"/>
<polyline points="620,415 638,415" stroke="#880000" stroke-width="1" fill="none"/>
<polyline points="638,406.5 638,423.5" stroke="#880000" stroke-width="1" fill="none"/>
<polyline points="642,406.5 642,423.5" stroke="#880000" stroke-width="1" fill="none"/>
<polyline points="642,415 660,415" stroke="#880000" stroke-width="1" fill="none"/>
<polyline points="660,415 710,415" stroke="#008800" stroke-width="1" fill="none"/>
<text transform="translate(629.76 402.45) scale(1 1.1)" fill="#000080">C10</text>
<text transform="translate(630.26 432.87) scale(1 1.1)" fill="#0000ff">100nF</text>
<circle cx="350" cy="355" r="2.65" fill="#cc0000"/>
<circle cx="320" cy="500" r="2.65" fill="#cc0000"/>
<circle cx="350" cy="500" r="2.65" fill="#cc0000"/>
<circle cx="435" cy="480" r="2.65" fill="#cc0000"/>
<circle cx="470" cy="480" r="2.65" fill="#cc0000"/>
<circle cx="535" cy="480" r="2.65" fill="#cc0000"/>
<circle cx="435" cy="500" r="2.65" fill="#cc0000"/>
<circle cx="575" cy="415" r="2.65" fill="#cc0000"/>
<circle cx="320" cy="565" r="2.65" fill="#cc0000"/>
<circle cx="350" cy="565" r="2.65" fill="#cc0000"/>
<circle cx="375" cy="565" r="2.65" fill="#cc0000"/>
<circle cx="435" cy="565" r="2.65" fill="#cc0000"/>
<circle cx="470" cy="565" r="2.65" fill="#cc0000"/>
<circle cx="535" cy="565" r="2.65" fill="#cc0000"/>
<circle cx="710" cy="565" r="2.65" fill="#cc0000"/>
<circle cx="710" cy="460" r="2.65" fill="#cc0000"/>
<circle cx="710" cy="480" r="2.65" fill="#cc0000"/>
<circle cx="710" cy="500" r="2.65" fill="#cc0000"/>
<circle cx="710" cy="520" r="2.65" fill="#cc0000"/>
<polyline points="885,375 875,375" stroke="#880000" stroke-width="1" fill="none"/>
<polyline points="875,369.4 875,380.6" stroke="#880000" stroke-width="1" fill="none"/>
<text transform="translate(872 375) rotate(-90) scale(1 1.1)" fill="#000080" text-anchor="middle">+12V</text>
<polyline points="885,375 900,375" stroke="#008800" stroke-width="1" fill="none"/>
<polyline points="900,375 915,375" stroke="#880000" stroke-width="1" fill="none"/>
<polyline points="925,375 940,375" stroke="#880000" stroke-width="1" fill="none"/>
<path d="M915.3 368.8 L925.4 375 L915.3 381.2 Z" stroke="#880000" stroke-width="1" fill="none"/>
<polyline points="923.2,367.4 925.4,367.4 925.4,382.6 927.6,382.6" stroke="#880000" stroke-width="1" fill="none"/>
<polyline points="940,375 950,375" stroke="#008800" stroke-width="1" fill="none"/>
<polyline points="950,375 960,375" stroke="#880000" stroke-width="1" fill="none"/>
<polyline points="980,375 990,375" stroke="#880000" stroke-width="1" fill="none"/>
<rect x="960" y="371" width="20" height="8" stroke="#880000" stroke-width="1" fill="none"/>
<polyline points="990,375 1050,375" stroke="#008800" stroke-width="1" fill="none"/>
<polyline points="1050,375 1050,365" stroke="#880000" stroke-width="1" fill="none"/>
<polyline points="1055.6,365 1044.4,365" stroke="#880000" stroke-width="1" fill="none"/>
<text transform="translate(1050 363.2) scale(1 1.1)" fill="#000080" text-anchor="middle">VCC_12V_OPA</text>
<text transform="translate(915 362.61) scale(1 1.1)" fill="#000080">D2</text>
<text transform="translate(915 387.34) scale(1 1.1)" fill="#0000ff">SS54</text>
<text transform="translate(960.23 367.82) scale(1 1.1)" fill="#000080">R5</text>
<text transform="translate(960.74 386.83) scale(1 1.1)" fill="#0000ff">10Ω</text>
<polyline points="1005,375 1005,380" stroke="#008800" stroke-width="1" fill="none"/>
<polyline points="1005,380 1005,398" stroke="#880000" stroke-width="1" fill="none"/>
<polyline points="996.5,398 1013.5,398" stroke="#880000" stroke-width="1" fill="none"/>
<polyline points="996.5,402 1013.5,402" stroke="#880000" stroke-width="1" fill="none"/>
<polyline points="1005,402 1005,420" stroke="#880000" stroke-width="1" fill="none"/>
<polyline points="1005,420 1005,425 1050,425 1050,420" stroke="#008800" stroke-width="1" fill="none"/>
<polyline points="1050,375 1050,380" stroke="#008800" stroke-width="1" fill="none"/>
<polyline points="1050,380 1050,398" stroke="#880000" stroke-width="1" fill="none"/>
<polyline points="1041.5,398 1058.5,398" stroke="#880000" stroke-width="1" fill="none"/>
<polyline points="1041.5,402 1058.5,402" stroke="#880000" stroke-width="1" fill="none"/>
<polyline points="1050,402 1050,420" stroke="#880000" stroke-width="1" fill="none"/>
<text transform="translate(1015.48 397.24) scale(1 1.1)" fill="#000080">C8</text>
<text transform="translate(1014.98 407.25) scale(1 1.1)" fill="#0000ff">2.2uF</text>
<text transform="translate(1055.31 392.54) scale(1 1.1)" fill="#000080">C9</text>
<text transform="translate(1056.11 412.46) scale(1 1.1)" fill="#0000ff">100nF</text>
<polyline points="1030,425 1030,435" stroke="#008800" stroke-width="1" fill="none"/>
<polyline points="1030,435 1030,445" stroke="#880000" stroke-width="1" fill="none"/>
<polyline points="1019.2,445 1040.8,445" stroke="#880000" stroke-width="1" fill="none"/>
<polyline points="1022.2,448 1037.8,448" stroke="#880000" stroke-width="1" fill="none"/>
<polyline points="1025.2,451 1034.8,451" stroke="#880000" stroke-width="1" fill="none"/>
<polyline points="1028.2,454 1031.8,454" stroke="#880000" stroke-width="1" fill="none"/>
<text transform="translate(1030 463.6) scale(1 1.1)" fill="#000080" text-anchor="middle">GND</text>
<circle cx="895" cy="375" r="2.65" fill="#cc0000"/>
<circle cx="1005" cy="375" r="2.65" fill="#cc0000"/>
<circle cx="1050" cy="375" r="2.65" fill="#cc0000"/>
<circle cx="1030" cy="425" r="2.65" fill="#cc0000"/>
<polyline points="895,375 895,465 935,465" stroke="#008800" stroke-width="1" fill="none"/>
<rect x="945" y="445" width="20" height="40" stroke="#880000" stroke-width="1" fill="none"/>
<polyline points="935,455 945,455" stroke="#880000" stroke-width="1" fill="none"/>
<text transform="translate(945.22 462.1) scale(1 1.1)" fill="#000000" text-anchor="end">3</text>
<text transform="translate(949.23 457.49) scale(1 1.1)" fill="#000000">3</text>
<polyline points="935,465 945,465" stroke="#880000" stroke-width="1" fill="none"/>
<text transform="translate(945.22 472.1) scale(1 1.1)" fill="#000000" text-anchor="end">2</text>
<text transform="translate(949.23 467.5) scale(1 1.1)" fill="#000000">2</text>
<polyline points="935,475 945,475" stroke="#880000" stroke-width="1" fill="none"/>
<text transform="translate(945.22 482.11) scale(1 1.1)" fill="#000000" text-anchor="end">1</text>
<text transform="translate(949.23 477.51) scale(1 1.1)" fill="#000000">1</text>
<polyline points="910,455 935,455" stroke="#008800" stroke-width="1" fill="none"/>
<circle cx="910" cy="455" r="1.6" fill="#909090"/>
<text transform="translate(910.39 452.89) scale(1 1.1)" fill="#0000ff">PA11</text>
<text transform="translate(945.22 442.48) scale(1 1.1)" fill="#000080">CN1</text>
<text transform="translate(945.22 492.62) scale(1 1.1)" fill="#0000ff">2510-3A</text>
<polyline points="935,475 895,475 895,495" stroke="#008800" stroke-width="1" fill="none"/>
<polyline points="895,495 895,507.6 884.8,507.6" stroke="#880000" stroke-width="1" fill="none"/>
<polyline points="895,505 905,505 905,525 895,525" stroke="#880000" stroke-width="1" fill="none"/>
<polyline points="884.8,515 895,515 895,535" stroke="#880000" stroke-width="1" fill="none"/>
<polyline points="884.8,522.1 895,522.1" stroke="#880000" stroke-width="1" fill="none"/>
<polyline points="875,515 882.3,515" stroke="#880000" stroke-width="1" fill="none"/>
<polyline points="882.3,505 882.3,525" stroke="#880000" stroke-width="0.85" fill="none"/>
<polyline points="884.8,505 884.8,509.8" stroke="#880000" stroke-width="0.85" fill="none"/>
<polyline points="884.8,512.4 884.8,517.4" stroke="#880000" stroke-width="0.85" fill="none"/>
<polyline points="884.8,519.8 884.8,524.4" stroke="#880000" stroke-width="0.85" fill="none"/>
<path d="M885.6 515 L891 512.8 L891 517.2 Z" stroke="#880000" stroke-width="0.6" fill="#880000"/>
<path d="M905 512.3 L901.7 517.3 L908.3 517.3 Z" stroke="#880000" stroke-width="0.9" fill="none"/>
<polyline points="901,512.3 909,512.3" stroke="#880000" stroke-width="0.9" fill="none"/>
<text transform="translate(880.07 502.83) scale(1 1.1)" fill="#000080">Q1</text>
<text transform="translate(899.69 502.83) scale(1 1.1)" fill="#0000ff">AO3400</text>
<polyline points="865,515 875,515" stroke="#008800" stroke-width="1" fill="none"/>
<polyline points="825,515 835,515" stroke="#880000" stroke-width="1" fill="none"/>
<polyline points="855,515 865,515" stroke="#880000" stroke-width="1" fill="none"/>
<rect x="835" y="511" width="20" height="8" stroke="#880000" stroke-width="1" fill="none"/>
<polyline points="780,515 825,515" stroke="#008800" stroke-width="1" fill="none"/>
<circle cx="780" cy="515" r="1.6" fill="#909090"/>
<text transform="translate(780.19 512.34) scale(1 1.1)" fill="#0000ff">FAN/PWM</text>
<text transform="translate(834.83 507.83) scale(1 1.1)" fill="#000080">R9</text>
<text transform="translate(835.63 527.05) scale(1 1.1)" fill="#0000ff">10Ω</text>
<polyline points="895,535 895,555" stroke="#008800" stroke-width="1" fill="none"/>
<polyline points="895,555 895,565" stroke="#880000" stroke-width="1" fill="none"/>
<polyline points="884.2,565 905.8,565" stroke="#880000" stroke-width="1" fill="none"/>
<polyline points="887.2,568 902.8,568" stroke="#880000" stroke-width="1" fill="none"/>
<polyline points="890.2,571 899.8,571" stroke="#880000" stroke-width="1" fill="none"/>
<polyline points="893.2,574 896.8,574" stroke="#880000" stroke-width="1" fill="none"/>
<text transform="translate(895 582.6) scale(1 1.1)" fill="#000080" text-anchor="middle">GND</text>
</g>
<g id="overlay">
<g fill="none" stroke="#4a86e8" stroke-width="3.2" stroke-linecap="round" stroke-linejoin="round"><path d="M495.6 795.2 C490.3 795.6 488.4 791.6 489 788 C489.7 784.2 493.2 782.2 496.4 782.9 C497.4 777.8 502.6 775.4 507.4 776.3 C511.6 777.1 514.2 780.2 514.8 783.6 C519.6 783.2 523 786.4 522.8 790.4 C522.6 794 519.6 796 515 795.6"/><path d="M503.6 792.6 L513.2 788.3"/><circle cx="500.4" cy="794.3" r="3.1"/></g>
<text x="529" y="795.6" fill="#4a86e8" font-size="22.5" font-weight="bold" font-style="italic" class="c" textLength="72.5" lengthAdjust="spacingAndGlyphs">嘉立创</text>
<text x="602.2" y="795.6" fill="#4a86e8" stroke="#4a86e8" stroke-width="1" stroke-linejoin="round" font-size="27" font-weight="bold" font-style="italic" class="c" textLength="52" lengthAdjust="spacingAndGlyphs">EDA</text>
<text x="25.6" y="718.9" fill="#808080" stroke="#808080" stroke-width="0.5" font-size="27.5" class="c" textLength="162" lengthAdjust="spacingAndGlyphs">Zeruns ’s Blog</text>
<text x="10.5" y="756.3" fill="#ff8080" stroke="#ff8080" stroke-width="0.5" font-size="27.5" class="c" textLength="193.5" lengthAdjust="spacingAndGlyphs">blog.zeruns.tech</text>
</g>
</svg>
</body>
</html>
